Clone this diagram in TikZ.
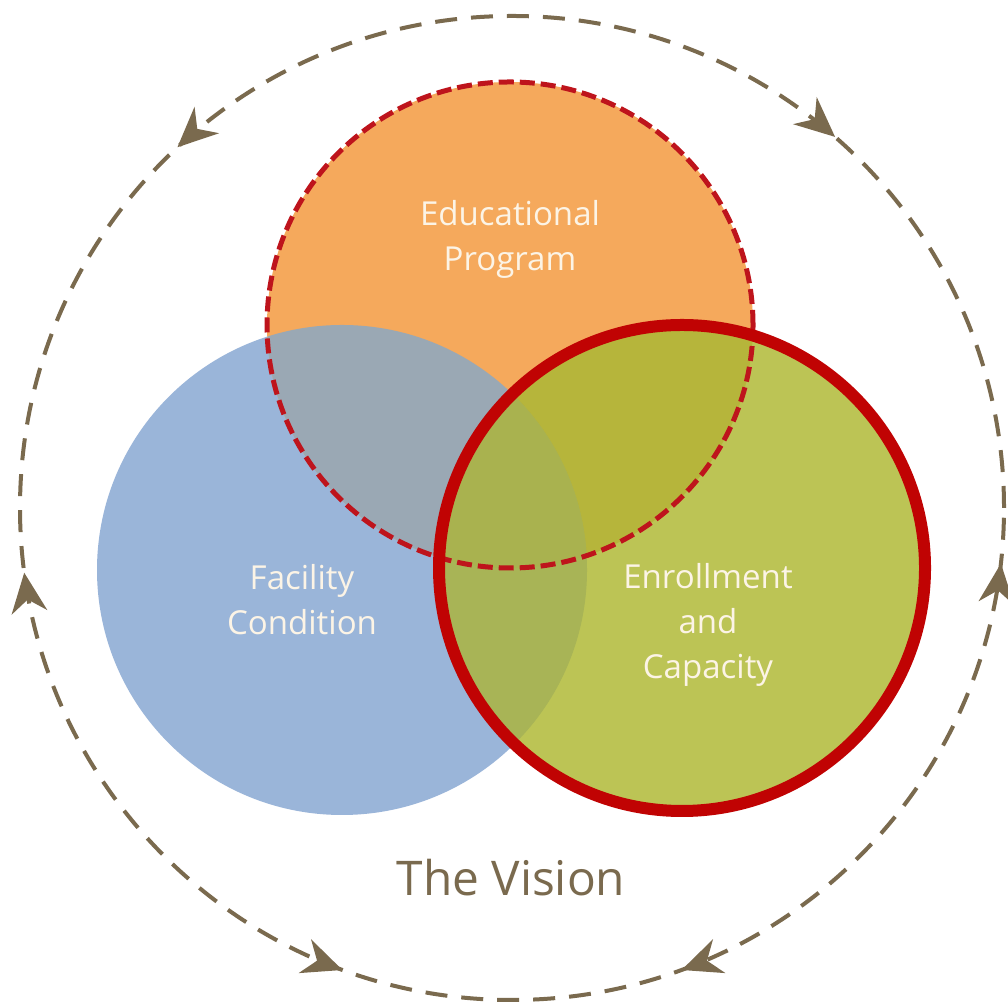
\documentclass[tikz,border=0pt]{standalone}
\usepackage{fontspec}
\setmainfont{Open Sans}[Ligatures=NoCommon]
\usepackage{tikz}
\usetikzlibrary{arrows.meta,decorations.markings}

\definecolor{visionbrown}{HTML}{7A6A4E}
\definecolor{eduorange}{HTML}{F5A95C}
\definecolor{facblue}{HTML}{9AB5D9}
\definecolor{enrgreen}{HTML}{BCC455}
\definecolor{eduXfac}{HTML}{9AA8B4}
\definecolor{eduXenr}{HTML}{B6B53B}
\definecolor{facXenr}{HTML}{A8B456}
\definecolor{allthree}{HTML}{A9B24F}
\definecolor{ringred}{HTML}{C00303}
\definecolor{dashred}{HTML}{BE141C}
\definecolor{labelcream}{HTML}{FCF4E6}

\tikzset{cycletip/.tip={Stealth[length=0.4cm, width=0.36cm, inset=0.13cm]}}

\begin{document}
\begin{tikzpicture}[
  circlelabel/.style={text=labelcream, align=center, font=\fontsize{9.4}{12.8}\selectfont}
]
\useasboundingbox[fill=white] (0,0) rectangle (10.07,10.08);
\coordinate (vision c) at (5.12,5.00);
\coordinate (edu c) at (5.10,6.83);
\coordinate (fac c) at (3.42,4.38);
\coordinate (enr c) at (6.82,4.40);
% outer cycle
\draw[visionbrown, line width=0.04cm, dash pattern=on 0.22cm off 0.14cm] (vision c) circle (4.92cm);
\path[decorate, decoration={markings,
  mark=at position 0.136 with {\arrowreversed[visionbrown]{cycletip}},
  mark=at position 0.369 with {\arrow[visionbrown]{cycletip}},
  mark=at position 0.521 with {\arrowreversed[visionbrown]{cycletip}},
  mark=at position 0.694 with {\arrow[visionbrown]{cycletip}},
  mark=at position 0.806 with {\arrowreversed[visionbrown]{cycletip}},
  mark=at position 0.982 with {\arrow[visionbrown]{cycletip}}}] (vision c) circle (4.92cm);
% the three circles
\fill[facblue] (fac c) circle (2.45cm);
\fill[eduorange] (edu c) circle (2.43cm);
\fill[enrgreen] (enr c) circle (2.43cm);
\begin{scope}
  \clip (edu c) circle (2.43cm);
  \fill[eduXfac] (fac c) circle (2.45cm);
  \fill[eduXenr] (enr c) circle (2.43cm);
\end{scope}
\begin{scope}
  \clip (enr c) circle (2.43cm);
  \fill[facXenr] (fac c) circle (2.45cm);
\end{scope}
\begin{scope}
  \clip (edu c) circle (2.43cm);
  \clip (fac c) circle (2.45cm);
  \fill[allthree] (enr c) circle (2.43cm);
\end{scope}
\draw[dashred, line width=0.05cm, dash pattern=on 0.15cm off 0.06cm] (edu c) circle (2.43cm);
\draw[ringred, line width=0.12cm] (enr c) circle (2.43cm);
% labels
\node[circlelabel] (edu label) at (5.10,7.685) {Educational\\Program};
\node[circlelabel] (fac label) at (3.02,4.08) {Facility\\Condition};
\node[circlelabel] (enr label) at (7.08,3.83) {Enrollment\\and\\Capacity};
\node[text=visionbrown, font=\fontsize{13.6}{16}\selectfont] (vision label) at (5.11,1.30) {The Vision};
\end{tikzpicture}
\end{document}
